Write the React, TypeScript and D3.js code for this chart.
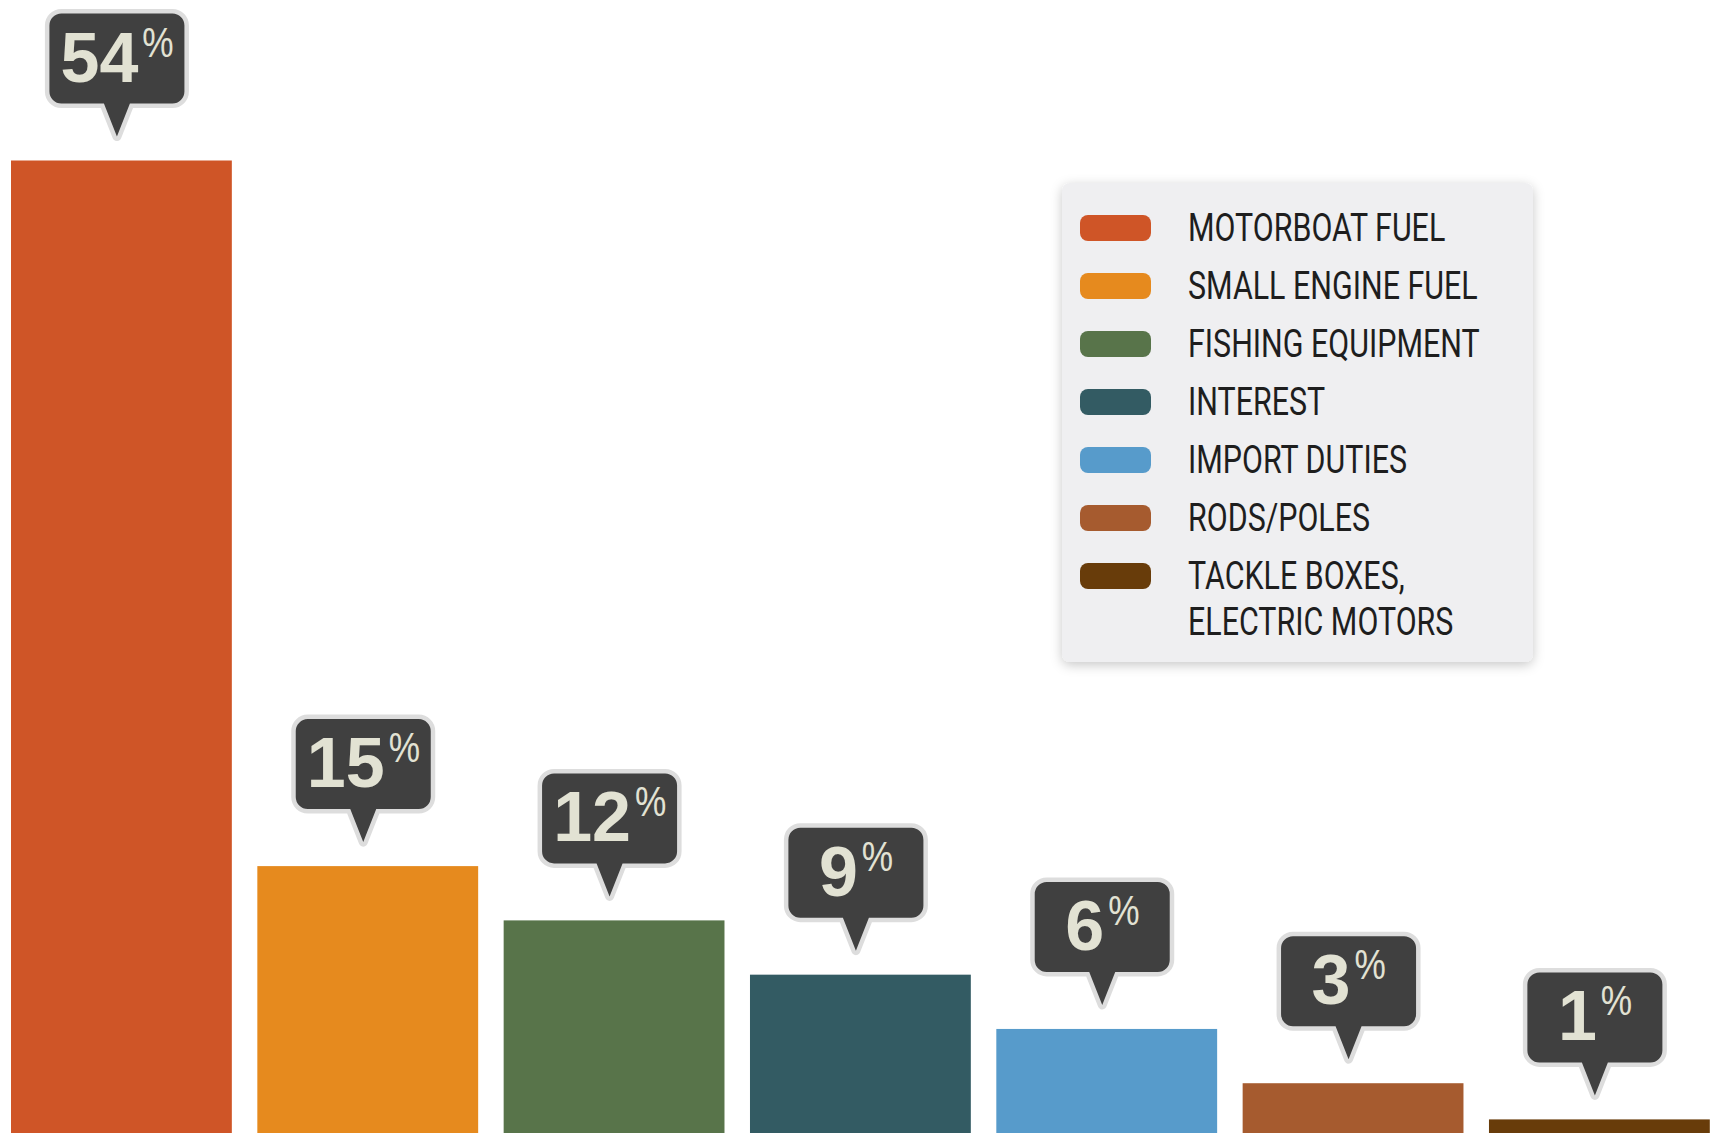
import React from "react";
import * as d3 from "d3";

const categories = [
  "MOTORBOAT FUEL",
  "SMALL ENGINE FUEL",
  "FISHING EQUIPMENT",
  "INTEREST",
  "IMPORT DUTIES",
  "RODS/POLES",
  "TACKLE BOXES, ELECTRIC MOTORS",
];
const values = [54, 15, 12, 9, 6, 3, 1];
const colors = ["#cf5527", "#e68a1e", "#58744a", "#335b63", "#579bcb", "#a65b2f", "#683c0a"];
const legendLines = [
  ["MOTORBOAT FUEL"],
  ["SMALL ENGINE FUEL"],
  ["FISHING EQUIPMENT"],
  ["INTEREST"],
  ["IMPORT DUTIES"],
  ["RODS/POLES"],
  ["TACKLE BOXES,", "ELECTRIC MOTORS"],
];

const W = 1719;
const H = 1133;

const calloutPath = (() => {
  const hw = 67.5, top = -128, bot = -38, r = 12, ph = 13, tip = -5;
  return [
    `M 0,${tip}`,
    `L ${-ph},${bot}`,
    `L ${-hw + r},${bot}`,
    `A ${r} ${r} 0 0 1 ${-hw},${bot - r}`,
    `L ${-hw},${top + r}`,
    `A ${r} ${r} 0 0 1 ${-hw + r},${top}`,
    `L ${hw - r},${top}`,
    `A ${r} ${r} 0 0 1 ${hw},${top + r}`,
    `L ${hw},${bot - r}`,
    `A ${r} ${r} 0 0 1 ${hw - r},${bot}`,
    `L ${ph},${bot}`,
    "Z",
  ].join(" ");
})();

export default function App() {
  const x = d3
    .scaleBand<string>()
    .domain(categories)
    .range([11, 1709.8])
    .paddingInner(0.1035)
    .paddingOuter(0);
  const y = d3.scaleLinear().domain([0, 54]).range([1137.5, 160.5]);

  const digitSize = 70;
  const digitAdv = 0.556 * digitSize;

  return (
    <svg
      width={W}
      height={H}
      viewBox={`0 0 ${W} ${H}`}
      style={{ position: "absolute", left: 0, top: 0, background: "#ffffff" }}
    >
      <defs>
        <filter id="legShadow" x="-10%" y="-10%" width="120%" height="120%">
          <feDropShadow dx="0" dy="3" stdDeviation="6" floodColor="#000" floodOpacity="0.22" />
        </filter>
      </defs>
      <rect x={0} y={0} width={W} height={H} fill="#ffffff" />

      {categories.map((c, i) => {
        const bx = x(c)!;
        const by = y(values[i]);
        return (
          <rect key={c} x={bx} y={by} width={x.bandwidth()} height={y(0) - by} fill={colors[i]} />
        );
      })}

      {categories.map((c, i) => {
        const cx = x(c)! + x.bandwidth() / 2 - 4.5;
        const tipY = y(values[i]) - 19;
        const label = String(values[i]);
        const dw = label.length * digitAdv;
        const total = dw + 35;
        const x0 = -total / 2;
        return (
          <g key={"c" + c} transform={`translate(${cx},${tipY})`}>
            <path
              d={calloutPath}
              fill="#404040"
              stroke="#dddddd"
              strokeWidth={9}
              strokeLinejoin="round"
              style={{ paintOrder: "stroke" }}
            />
            <text
              x={x0}
              y={-60}
              fill="#e2e2d3"
              fontFamily="'Liberation Sans', Arial, sans-serif"
              fontWeight="bold"
              fontSize={digitSize}
            >
              {label}
            </text>
            <text
              transform={`translate(${x0 + dw + 4},${-85}) scale(0.82,1)`}
              fill="#e2e2d3"
              fontFamily="'Liberation Sans', Arial, sans-serif"
              fontSize={43}
            >
              %
            </text>
          </g>
        );
      })}

      <g>
        <rect x={1062} y={183} width={471} height={479} rx={8} fill="#efeff1" filter="url(#legShadow)" />
        {legendLines.map((lines, i) => {
          const cy = 228 + i * 58;
          return (
            <g key={"l" + i}>
              <rect x={1080} y={cy - 13} width={71} height={26} rx={8} fill={colors[i]} />
              {lines.map((ln, j) => (
                <text
                  key={j}
                  transform={`translate(1188,${cy + 13 + j * 46}) scale(0.78,1)`}
                  fill="#1e1e1e"
                  fontFamily="Roboto, 'Liberation Sans', sans-serif"
                  fontWeight={400}
                  fontSize={39}
                >
                  {ln}
                </text>
              ))}
            </g>
          );
        })}
      </g>
    </svg>
  );
}
